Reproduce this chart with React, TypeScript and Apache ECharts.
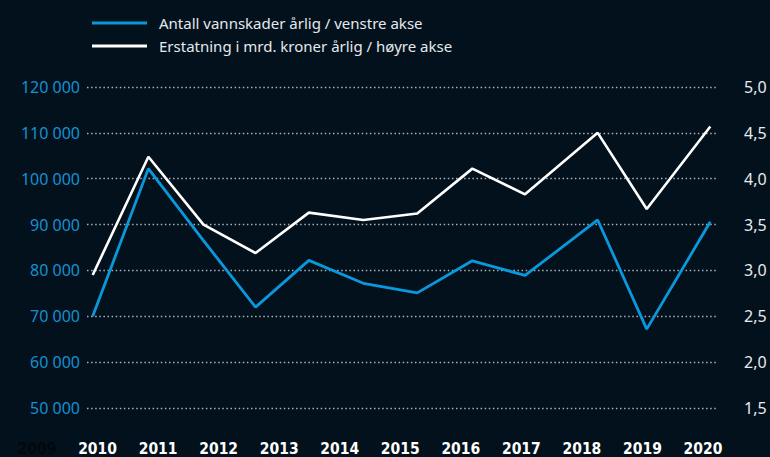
import React, { useEffect, useRef } from "react";
import * as echarts from "echarts";

const years = ["2009", "2010", "2011", "2012", "2013", "2014", "2015", "2016", "2017", "2018", "2019", "2020"];
// horizontal placement of each yearly point, in year units of the label axis
const pointYears = [2009.92, 2010.84, 2011.75, 2012.61, 2013.49, 2014.39, 2015.28, 2016.19, 2017.06, 2018.26, 2019.07, 2020.12];
const vannskader = [70000, 102200, 86500, 72000, 82200, 77200, 75100, 82100, 78900, 91000, 67200, 90600];
const erstatning = [2.95, 4.24, 3.5, 3.19, 3.63, 3.55, 3.62, 4.11, 3.83, 4.5, 3.67, 4.57];
const leftTicks = { min: 50000, max: 120000, interval: 10000 };
const rightTicks = { min: 1.5, max: 5, interval: 0.5 };
const seriesNames = ["Antall vannskader årlig / venstre akse", "Erstatning i mrd. kroner årlig / høyre akse"];

const BG = "#02111c";
const BLUE = "#0a98dc";
const BLUE_TEXT = "#1690d0";
const WHITE = "#ffffff";

export default function App() {
  const ref = useRef<HTMLDivElement>(null);
  useEffect(() => {
    if (!ref.current) return;
    const chart = echarts.init(ref.current, null, { renderer: "svg" });
    const option: any = {
      animation: false,
      backgroundColor: BG,
      legend: {
        orient: "vertical",
        left: 87,
        top: 9,
        icon: "rect",
        itemWidth: 55,
        itemHeight: 3,
        itemGap: 5,
        data: seriesNames,
        textStyle: {
          color: "#e6e9ec",
          fontFamily: "Noto Sans",
          fontSize: 15,
          lineHeight: 18,
          padding: [0, 0, 0, 7],
        },
      },
      grid: [
        { left: 87, right: 52, top: 87, bottom: 49 },
        { left: 37, right: 67, top: 87, bottom: 49 },
      ],
      xAxis: [
        {
          type: "value",
          gridIndex: 0,
          min: 2009.826,
          max: 2020.247,
          show: false,
          splitLine: { show: false },
        },
        {
          type: "category",
          gridIndex: 1,
          data: years,
          boundaryGap: false,
          axisLine: { show: false },
          axisTick: { show: false },
          splitLine: { show: false },
          axisLabel: {
            margin: 34,
            fontFamily: "DejaVu Sans Condensed",
            fontWeight: "bold",
            fontSize: 15.5,
            color: (v: string, i: number) => (i === 0 ? "#01080d" : "#ffffff"),
            interval: 0,
          },
        },
      ],
      yAxis: [
        {
          type: "value",
          gridIndex: 0,
          position: "left",
          min: leftTicks.min,
          max: leftTicks.max,
          interval: leftTicks.interval,
          axisLine: { show: false },
          axisTick: { show: false },
          axisLabel: {
            margin: 7,
            color: BLUE_TEXT,
            fontFamily: "Noto Sans",
            fontSize: 16,
            formatter: (v: number) => String(v).replace(/\B(?=(\d{3})+(?!\d))/g, " "),
          },
          splitLine: {
            show: true,
            lineStyle: { color: "#aab1b8", width: 1.3, type: [1.5, 2.6] },
          },
        },
        {
          type: "value",
          gridIndex: 0,
          position: "right",
          min: rightTicks.min,
          max: rightTicks.max,
          interval: rightTicks.interval,
          axisLine: { show: false },
          axisTick: { show: false },
          axisLabel: {
            margin: 26,
            color: "#e8ebee",
            fontFamily: "Noto Sans",
            fontSize: 16,
            formatter: (v: number) => v.toFixed(1).replace(".", ","),
          },
          splitLine: { show: false },
        },
        { type: "value", gridIndex: 1, show: false, splitLine: { show: false } },
      ],
      series: [
        {
          name: seriesNames[0],
          type: "line",
          xAxisIndex: 0,
          yAxisIndex: 0,
          data: pointYears.map((x, i) => [x, vannskader[i]]),
          symbol: "none",
          lineStyle: { color: BLUE, width: 2.8 },
          itemStyle: { color: BLUE },
        },
        {
          name: seriesNames[1],
          type: "line",
          xAxisIndex: 0,
          yAxisIndex: 1,
          data: pointYears.map((x, i) => [x, erstatning[i]]),
          symbol: "none",
          lineStyle: { color: WHITE, width: 2.6 },
          itemStyle: { color: WHITE },
        },
      ],
    };
    chart.setOption(option);
    return () => chart.dispose();
  }, []);
  return (
    <div
      ref={ref}
      style={{ position: "fixed", left: 0, top: 0, width: 770, height: 457 }}
    />
  );
}
